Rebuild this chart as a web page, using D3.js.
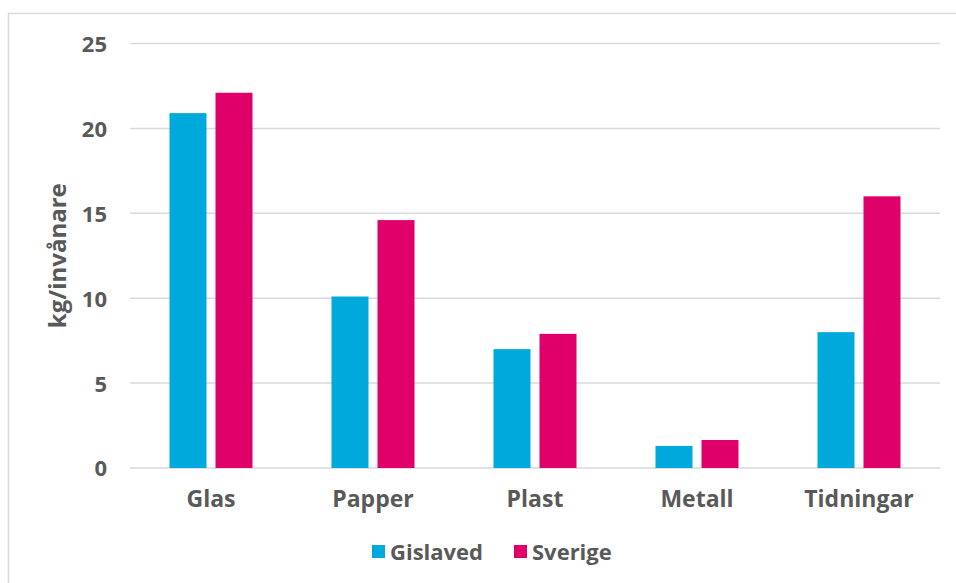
<!DOCTYPE html>
<html><head><meta charset="utf-8">
<script src="https://cdn.jsdelivr.net/npm/d3@7"></script>
<style>body{margin:0;background:#fff;} text{font-family:"Open Sans","Lato",sans-serif;font-weight:700;fill:#595959;}</style>
</head><body>
<svg id="c" width="956" height="583"></svg>
<script>
const categories = ["Glas","Papper","Plast","Metall","Tidningar"];
const gislaved = [20.9, 10.1, 7.0, 1.3, 8.0];
const sverige = [22.1, 14.6, 7.9, 1.65, 16.0];
const seriesNames = ["Gislaved","Sverige"];
const colors = ["#00A9DC","#E0006A"];
const yTicks = [0,5,10,15,20,25];

const svg = d3.select("#c");
svg.append("rect").attr("x",8.5).attr("y",13.5).attr("width",960).attr("height",600)
  .attr("fill","none").attr("stroke","#d9d9d9").attr("stroke-width",1.5);

const pL=130,pR=940,pT=43.5,pB=468;
const x = d3.scaleBand().domain(categories).range([pL,pR]).paddingInner(0).paddingOuter(0);
const y = d3.scaleLinear().domain([0,25]).range([pB,pT]);

svg.append("g").selectAll("line").data(yTicks).join("line")
  .attr("x1",pL).attr("x2",pR).attr("y1",d=>y(d)).attr("y2",d=>y(d))
  .attr("stroke","#d9d9d9").attr("stroke-width",1.5);

const yAxis = d3.axisLeft(y).tickValues(yTicks).tickSize(0).tickPadding(0);
const gy = svg.append("g").attr("transform",`translate(107,0)`).call(yAxis);
gy.select(".domain").remove();
gy.selectAll("text").style("font-size","22px").attr("fill","#595959").attr("dy","0.36em");

const xAxis = d3.axisBottom(x).tickSize(0).tickPadding(0);
const gx = svg.append("g").attr("transform",`translate(0,${pB+22})`).call(xAxis);
gx.select(".domain").remove();
gx.selectAll("text").style("font-size","23px").attr("fill","#595959").attr("dy","0.73em");
svg.selectAll(".tick text").attr("font-family",null);

const inner = d3.scaleBand().domain(seriesNames).range([0,x.bandwidth()]).paddingInner(0.1957).paddingOuter(0.8587);
const data = [gislaved, sverige];
data.forEach((vals,si)=>{
  svg.append("g").selectAll("rect").data(vals).join("rect")
    .attr("x",(d,i)=>x(categories[i])+inner(seriesNames[si]))
    .attr("width",inner.bandwidth())
    .attr("y",d=>y(d)).attr("height",d=>pB-y(d))
    .attr("fill",colors[si]);
});

svg.append("text").attr("transform",`translate(58,${(pT+pB)/2}) rotate(-90)`)
  .attr("text-anchor","middle").attr("dy","0.35em").style("font-size","24px").text("kg/invånare");

const legend = svg.append("g");
const legX = [372, 514];
seriesNames.forEach((s,i)=>{
  legend.append("rect").attr("x",legX[i]).attr("y",545).attr("width",13).attr("height",13).attr("fill",colors[i]);
  legend.append("text").attr("x",legX[i]+18).attr("y",552).attr("dy","0.36em").style("font-size","22px").text(s);
});
</script>
</body></html>
